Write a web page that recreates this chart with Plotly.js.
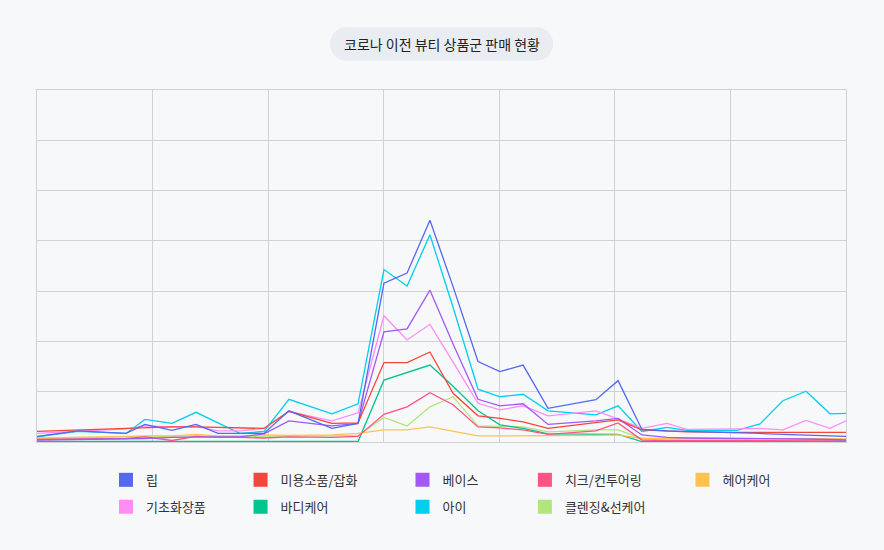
<!DOCTYPE html>
<html>
<head>
<meta charset="utf-8">
<script src="https://cdn.plot.ly/plotly-3.0.1.min.js"></script>
<style>
  html, body { margin: 0; padding: 0; background: #f7f8fa; }
  #grafico { width: 884px; height: 550px; }
</style>
</head>
<body>
<div id="grafico"></div>
<script>
// 주차 위치 (x축 눈금 라벨은 표시하지 않음)
const semanas = [0, 1.77, 3.85, 4.67, 5.84, 6.88, 7.83, 8.78, 9.82, 10.9, 12.76, 13.89, 15.01, 16.01, 17.0, 18.0,
                 19.08, 20.03, 21.03, 22.11, 24.18, 25.14, 26.17, 27.26, 28.12, 30.28, 31.28, 32.27, 33.27, 34.31, 35.0];

const categorias = ['립', '미용소품/잡화', '베이스', '치크/컨투어링', '헤어케어', '기초화장품', '바디케어', '아이', '클렌징&선케어'];
const cores = ['#5468f2', '#f4463a', '#a259f5', '#ff5286', '#ffc24f', '#ff8df5', '#00c58c', '#00cfee', '#b2e67c'];

const lip       = [1.1, 2.2, 1.7, 3.5, 2.3, 3.5, 1.7, 1.7, 1.7, 6.2, 2.7, 3.7, 31.6, 33.6, 44.1, 30.9, 16.0, 14.0, 15.3, 6.7, 8.4, 12.2, 2.5, 2.2, 2.1, 1.9, 1.7, 1.5, 1.4, 1.2, 1.1];
const acessorio = [2.1, 2.4, 2.7, 2.9, 3.0, 3.0, 2.9, 2.8, 2.7, 6.1, 3.7, 3.8, 15.8, 15.8, 17.9, 9.7, 5.2, 4.7, 4.0, 2.7, 3.8, 4.4, 2.4, 2.1, 2.0, 1.9, 1.9, 1.9, 1.9, 1.9, 1.9];
const base      = [0.4, 0.5, 0.6, 0.7, 0.9, 1.0, 1.0, 1.0, 1.6, 4.2, 3.2, 3.7, 21.9, 22.5, 30.2, 19.5, 8.5, 7.2, 7.6, 3.5, 4.2, 4.7, 1.4, 0.9, 0.8, 0.7, 0.7, 0.6, 0.6, 0.5, 0.4];
const cheek     = [0.5, 0.6, 0.7, 1.0, 0.3, 1.1, 0.9, 0.9, 0.8, 1.0, 0.9, 1.1, 5.5, 7.0, 9.8, 7.4, 3.0, 2.8, 2.4, 1.5, 2.2, 3.8, 0.4, 0.3, 0.3, 0.3, 0.3, 0.2, 0.2, 0.2, 0.2];
const cabelo    = [0.7, 0.9, 1.1, 1.2, 1.2, 1.5, 1.2, 1.2, 1.4, 1.3, 1.4, 1.7, 2.4, 2.4, 3.0, 2.2, 1.2, 1.2, 1.2, 1.2, 1.3, 1.4, 0.7, 0.7, 0.7, 0.7, 0.7, 0.7, 0.7, 0.6, 0.6];
const skincare  = [1.7, 2.1, 2.6, 3.2, 3.0, 3.1, 2.2, 2.2, 2.7, 6.1, 4.2, 5.8, 25.1, 20.3, 23.4, 15.9, 7.7, 6.4, 7.2, 5.2, 6.2, 4.6, 2.7, 3.7, 2.5, 2.6, 2.7, 2.4, 4.3, 2.7, 4.2];
const corpo     = [0.1, 0.1, 0.1, 0.1, 0.1, 0.1, 0.1, 0.1, 0.1, 0.1, 0.1, 0.1, 12.3, 13.8, 15.3, 11.1, 6.2, 3.4, 2.7, 1.6, 1.5, 1.5, 0.1, 0.1, 0.1, 0.1, 0.1, 0.1, 0.1, 0.1, 0.1];
const olhos     = [1.0, 2.1, 1.7, 4.5, 3.7, 5.9, 3.8, 1.7, 2.1, 8.5, 5.6, 7.6, 34.3, 31.0, 41.2, 26.8, 10.5, 9.0, 9.5, 6.2, 5.4, 7.2, 2.1, 2.9, 2.3, 2.3, 3.6, 8.2, 10.1, 5.6, 5.7];
const limpeza   = [0.8, 0.9, 1.0, 1.1, 1.1, 1.2, 1.1, 1.1, 1.1, 1.2, 1.2, 1.3, 4.9, 3.2, 7.0, 9.0, 3.2, 3.1, 3.0, 2.0, 2.4, 2.4, 0.7, 0.7, 0.7, 0.7, 0.7, 0.7, 0.6, 0.6, 0.6];

const series = [lip, acessorio, base, cheek, cabelo, skincare, corpo, olhos, limpeza];

// 범례 칸 (열별로 legend, legend2 ...)
const colunaLegenda = ['legend', 'legend2', 'legend3', 'legend4', 'legend5', 'legend', 'legend2', 'legend3', 'legend4'];

const fonte = '"Noto Sans CJK KR", "Noto Sans", sans-serif';

function desenhar() {
    const traces = [];

    // 선: 첫 번째 계열이 위에 오도록 역순으로 그림
    for (let i = series.length - 1; i >= 0; i--) {
        traces.push({
            x: semanas, y: series[i], type: 'scatter', mode: 'lines',
            name: categorias[i], showlegend: false, hoverinfo: 'x+y+name',
            line: { color: cores[i], width: 1.3 }
        });
    }

    // 범례용 사각형
    categorias.forEach((nome, i) => {
        traces.push({
            x: [null], y: [null], type: 'scatter', mode: 'markers', name: nome,
            legend: colunaLegenda[i], legendgroup: 'g' + i,
            marker: { symbol: 'square', size: 14, color: cores[i] }
        });
    });

    const colX = [0.0853, 0.2516, 0.4518, 0.6031, 0.7979];
    const legendBase = {
        orientation: 'v', xanchor: 'left', yanchor: 'top', y: -0.065,
        bgcolor: 'rgba(0,0,0,0)', tracegroupgap: 7, itemwidth: 30,
        font: { family: fonte, size: 13, color: '#333' }
    };

    const layout = {
        width: 884, height: 550,
        margin: { t: 90, b: 108, l: 37, r: 38 },
        paper_bgcolor: '#f7f8fa', plot_bgcolor: '#f7f8fa',
        font: { family: fonte, color: '#333' },
        showlegend: true,
        legend:  Object.assign({}, legendBase, { x: colX[0] }),
        legend2: Object.assign({}, legendBase, { x: colX[1] }),
        legend3: Object.assign({}, legendBase, { x: colX[2] }),
        legend4: Object.assign({}, legendBase, { x: colX[3] }),
        legend5: Object.assign({}, legendBase, { x: colX[4] }),
        xaxis: {
            range: [0, 35], dtick: 5, tick0: 0, showticklabels: false, ticks: '',
            showgrid: true, gridcolor: '#cfd2d6', gridwidth: 1, zeroline: false,
            showline: true, mirror: true, linecolor: '#cfd2d6', linewidth: 1
        },
        yaxis: {
            range: [0, 70], dtick: 10, tick0: 0, showticklabels: false, ticks: '',
            showgrid: true, gridcolor: '#cfd2d6', gridwidth: 1, zeroline: false,
            showline: true, mirror: true, linecolor: '#cfd2d6', linewidth: 1
        },
        shapes: [{
            type: 'path', xref: 'paper', yref: 'paper',
            xsizemode: 'pixel', ysizemode: 'pixel', xanchor: 0.5, yanchor: 1.1307,
            path: 'M -95,-16.7 L 95,-16.7 C 104.2,-16.7 111.7,-9.2 111.7,0 C 111.7,9.2 104.2,16.7 95,16.7 ' +
                  'L -95,16.7 C -104.2,16.7 -111.7,9.2 -111.7,0 C -111.7,-9.2 -104.2,-16.7 -95,-16.7 Z',
            fillcolor: '#e9edf2', line: { width: 0 }, layer: 'below'
        }],
        annotations: [{
            text: '코로나 이전 뷰티 상품군 판매 현황', xref: 'paper', yref: 'paper',
            x: 0.5, y: 1.1307, xanchor: 'center', yanchor: 'middle', showarrow: false,
            font: { family: fonte, size: 14, color: '#222' }
        }]
    };

    Plotly.newPlot('grafico', traces, layout, { displayModeBar: false, responsive: false });
}

desenhar();
</script>
</body>
</html>
